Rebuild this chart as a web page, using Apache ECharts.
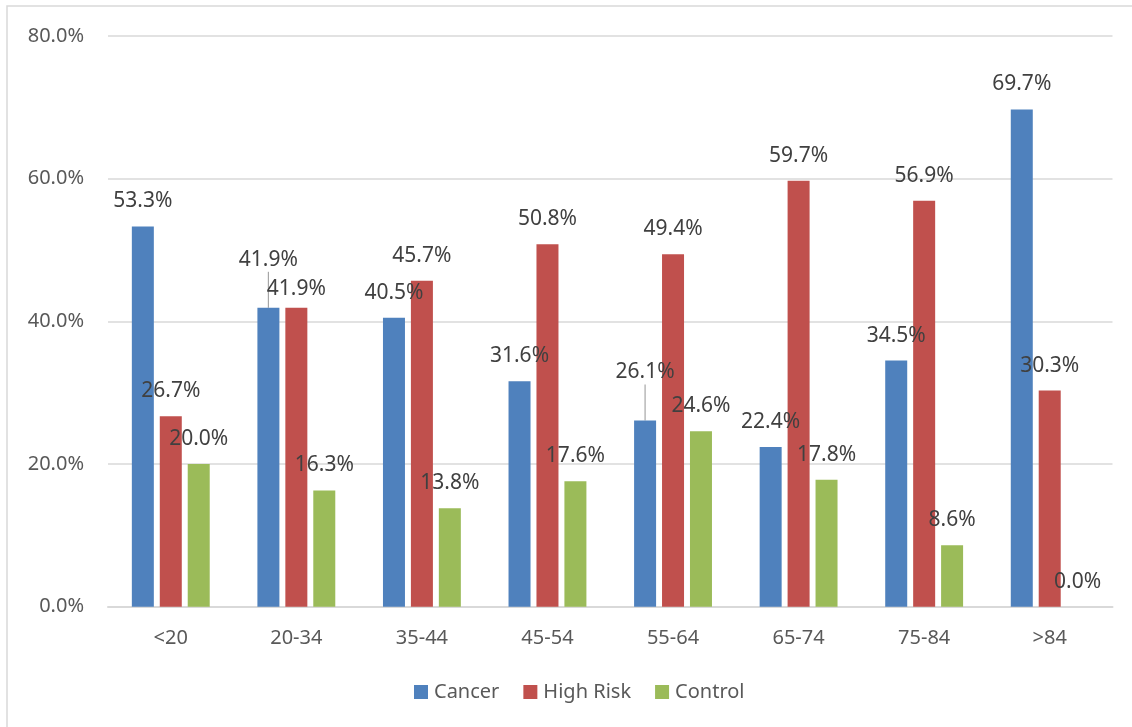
<!DOCTYPE html>
<html>
<head>
<meta charset="utf-8">
<title>Age group distribution</title>
<script src="https://cdn.jsdelivr.net/npm/echarts@6/dist/echarts.min.js"></script>
<style>
  html, body { margin: 0; padding: 0; background: #ffffff; }
  #chart { width: 1132px; height: 727px; }
</style>
</head>
<body>
<div id="chart"></div>
<script>
// Age groups on the category axis
const ageGroups = ['<20', '20-34', '35-44', '45-54', '55-64', '65-74', '75-84', '>84'];

// Share of each group (percent)
const cancer   = [53.3, 41.9, 40.5, 31.6, 26.1, 22.4, 34.5, 69.7];
const highRisk = [26.7, 41.9, 45.7, 50.8, 49.4, 59.7, 56.9, 30.3];
const control  = [20.0, 16.3, 13.8, 17.6, 24.6, 17.8,  8.6,  0.0];

const seriesNames = ['Cancer', 'High Risk', 'Control'];
const colors = ['#4F81BD', '#C0504D', '#9BBB59'];

// Labels that are lifted clear of their neighbours, with a guide line back to the bar
const labelShift = {
  0: { 1: -23, 4: -23 },
  1: { 1: 6 },
  2: {}
};
const guided = { 0: [1, 4], 1: [], 2: [] };

const FONT = '"Noto Sans", "DejaVu Sans", sans-serif';

function buildSeries(name, values, idx) {
  return {
    name: name,
    type: 'bar',
    barWidth: 22,
    barGap: '27%',
    itemStyle: { color: colors[idx] },
    label: {
      show: true,
      position: 'top',
      distance: 13,
      fontFamily: FONT,
      fontSize: 21,
      lineHeight: 24,
      color: '#404040',
      formatter: p => p.value.toFixed(1) + '%'
    },
    labelLayout: function (params) {
      const dy = labelShift[idx][params.dataIndex];
      return dy ? { dy: dy } : {};
    },
    data: values.map((v, i) => {
      if (guided[idx].indexOf(i) >= 0) {
        return {
          value: v,
          labelLine: { show: true, lineStyle: { color: '#a6a6a6', width: 1.2 } }
        };
      }
      return v;
    })
  };
}

const chart = echarts.init(document.getElementById('chart'), null, { renderer: 'canvas' });

chart.setOption({
  backgroundColor: '#ffffff',
  animation: false,
  graphic: [{
    type: 'rect',
    shape: { x: 7, y: 6, width: 1300, height: 900 },
    style: { fill: 'none', stroke: '#d9d9d9', lineWidth: 1.5 },
    silent: true,
    z: -10
  }],
  grid: { left: 108, right: 19.5, top: 36, bottom: 120.3, containLabel: false },
  legend: {
    data: seriesNames,
    left: 414,
    top: 680,
    padding: 0,
    icon: 'rect',
    itemWidth: 14,
    itemHeight: 14,
    itemGap: 24,
    textStyle: { fontFamily: FONT, fontSize: 20, lineHeight: 24, color: '#595959', padding: [0, 0, 0, 1] }
  },
  xAxis: {
    type: 'category',
    data: ageGroups,
    axisLine: { lineStyle: { color: '#d9d9d9', width: 2 } },
    axisTick: { show: false },
    axisLabel: { fontFamily: FONT, fontSize: 20, lineHeight: 24, color: '#595959', margin: 20 }
  },
  yAxis: {
    type: 'value',
    min: 0,
    max: 80,
    interval: 20,
    axisLine: { show: false },
    axisTick: { show: false },
    splitLine: { lineStyle: { color: '#d9d9d9', width: 1.5 } },
    axisLabel: {
      fontFamily: FONT, fontSize: 20, color: '#595959', margin: 24,
      formatter: v => v.toFixed(1) + '%'
    }
  },
  series: [
    buildSeries(seriesNames[0], cancer, 0),
    buildSeries(seriesNames[1], highRisk, 1),
    buildSeries(seriesNames[2], control, 2)
  ]
});
</script>
</body>
</html>
